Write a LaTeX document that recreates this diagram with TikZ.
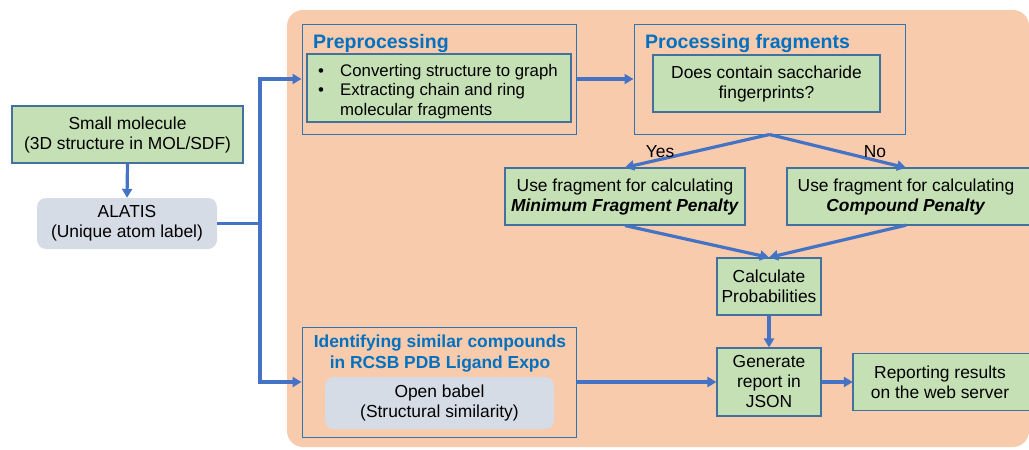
\documentclass[tikz,border=0pt]{standalone}
\usepackage{fontspec}
\setmainfont{Liberation Sans}
\usetikzlibrary{arrows.meta}
\definecolor{peach}{HTML}{F8CBAD}
\definecolor{boxgreen}{HTML}{C5E0B4}
\definecolor{boxgray}{HTML}{D6DCE5}
\definecolor{edgeblue}{HTML}{41719C}
\definecolor{grpblue}{HTML}{2E75B6}
\definecolor{arrblue}{HTML}{4472C4}
\definecolor{titleblue}{HTML}{0070C0}
\tikzset{
  greenbox/.style={draw=edgeblue, fill=boxgreen, line width=1.1pt, inner sep=0pt, align=center, font=\fontsize{17.4}{20}\selectfont},
  openbox/.style={draw=edgeblue, fill=boxgreen, line width=1.1pt},
  graybox/.style={fill=boxgray, rounded corners=9pt, inner sep=0pt, align=center, font=\fontsize{17.4}{20}\selectfont},
  grpbox/.style={draw=grpblue, line width=1pt, inner sep=0pt},
  textonly/.style={inner sep=0pt, align=center, font=\fontsize{17.4}{20}\selectfont},
  title/.style={inner sep=0pt, text=titleblue, font=\fontsize{19.5}{22}\selectfont\bfseries},
  arr/.style={draw=arrblue, line width=3.2pt, -{Triangle[length=9pt,width=10pt]}},
  plain/.style={draw=arrblue, line width=3.2pt},
}
\begin{document}
\begin{tikzpicture}[x=1pt,y=-1pt]
\useasboundingbox (0,0) rectangle (1029,450);
% background panel
\fill[peach, rounded corners=16pt] (287,10) rectangle (1029,447);

% left column
\node[greenbox, minimum width=231pt, minimum height=57pt] (sm) at (127.5,134.5) {Small molecule\\(3D structure in MOL/SDF)};
\node[graybox, minimum width=180pt, minimum height=51pt] (alatis) at (127,223.5) {ALATIS\\(Unique atom label)};

% preprocessing group
\node[grpbox, minimum width=274pt, minimum height=110pt] (pre) at (439,79) {};
\node[title, anchor=base west] (pretitle) at (313,48) {Preprocessing};
\node[greenbox, minimum width=264pt, minimum height=68pt] (prein) at (439,88) {};
\node[textonly, anchor=base west, align=left, font=\fontsize{16.8}{20}\selectfont] (bul1) at (318,76) {\textbullet};
\node[textonly, anchor=base west, align=left, font=\fontsize{16.8}{20}\selectfont] (bul2) at (318,95.5) {\textbullet};
\node[textonly, anchor=base west, align=left, font=\fontsize{16.8}{19.5}\selectfont] (pretext) at (340,115) {Converting structure to graph\\Extracting chain and ring\\molecular fragments};

% processing fragments group
\node[grpbox, minimum width=271pt, minimum height=110pt] (proc) at (769.5,79) {};
\node[title, anchor=base west] (proctitle) at (645,48) {Processing fragments};
\node[greenbox, minimum width=227pt, minimum height=57pt] (procin) at (766.5,83.5) {Does contain saccharide\\fingerprints?};

% decision outcomes
\node[greenbox, minimum width=240pt, minimum height=57pt] (yes) at (625,196.5) {Use fragment for calculating\\\textbf{\textit{Minimum Fragment Penalty}}};
\draw[openbox] (787,168) rectangle (1045,225);
\node[textonly, minimum width=238pt, minimum height=57pt] (no) at (906,196.5) {Use fragment for calculating\\\textbf{\textit{Compound Penalty}}};

% calculation chain
\node[greenbox, minimum width=104pt, minimum height=57pt] (calc) at (769,286.5) {Calculate\\Probabilities};
\node[greenbox, minimum width=104pt, minimum height=68pt] (gen) at (769,382) {Generate\\report in\\JSON};
\draw[openbox] (853,353.5) rectangle (1045,410.5);
\node[textonly, minimum width=174pt, minimum height=57pt] (rep) at (940,382) {Reporting results\\on the web server};

% identifying group
\node[grpbox, minimum width=274pt, minimum height=110pt] (ident) at (439,382) {};
\node[title, font=\fontsize{17.4}{20.5}\selectfont\bfseries, align=center, anchor=north] (idtitle) at (440,335) {Identifying similar compounds\\in RCSB PDB Ligand Expo};
\node[graybox, minimum width=229pt, minimum height=52pt] (babel) at (439.5,403) {Open babel\\(Structural similarity)};

% connectors
\coordinate (j) at (260,223.5);
\draw[arr] (sm.south) -- (alatis.north);
\draw[plain] (alatis.east) -- (j);
\draw[arr] (j) |- (pre.west);
\draw[arr] (j) |- (ident.west);
\draw[arr] (pre.east) -- (proc.west);
\draw[arr] (proc.south) -- (yes.north);
\draw[arr] (proc.south) -- (no.north);
\draw[arr] (yes.south) -- (calc.north);
\draw[arr] (no.south) -- (calc.north);
\draw[arr] (calc.south) -- (gen.north);
\draw[arr] (ident.east) -- (gen.west);
\draw[arr] (gen.east) -- (rep.west);

% branch labels
\node[textonly] (lyes) at (660,152) {Yes};
\node[textonly] (lno) at (875,152) {No};
\end{tikzpicture}
\end{document}
